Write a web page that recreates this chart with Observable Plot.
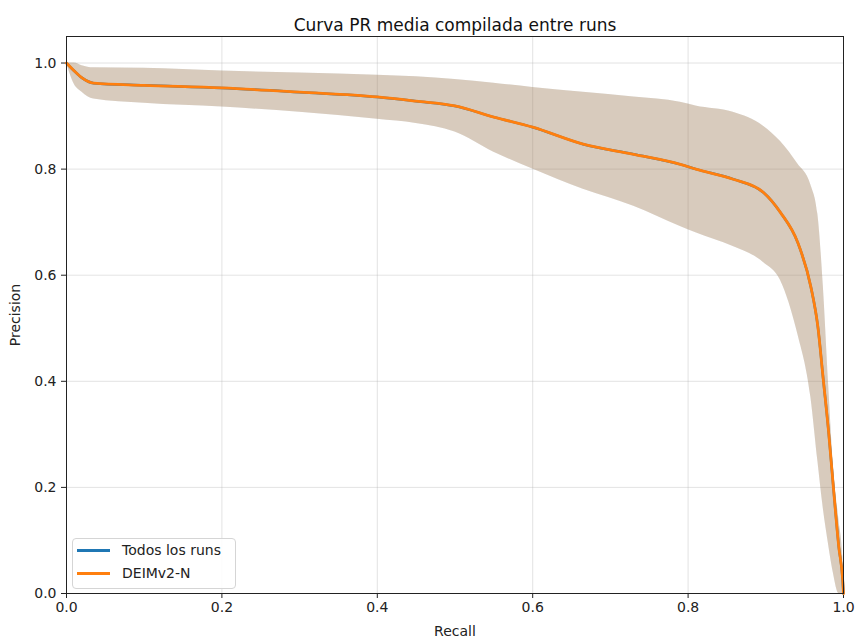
<!DOCTYPE html>
<html>
<head>
<meta charset="utf-8">
<script src="https://cdn.jsdelivr.net/npm/d3@7"></script>
<script src="https://cdn.jsdelivr.net/npm/@observablehq/plot@0.6"></script>
<style>
  body { margin: 0; background: #fff; font-family: "DejaVu Sans", sans-serif; }
  #wrap { position: relative; width: 856px; height: 637px; }
  #legend { position: absolute; left: 72px; top: 538px; width: 164px; height: 51px;
    border: 1px solid #d5d5d5; border-radius: 4px; background: rgba(255,255,255,0.85);
    font-size: 14px; color: #222; box-sizing: border-box; }
  .item { position: absolute; left: 4px; height: 20px; display: flex; align-items: center; }
  .sw { width: 33px; height: 3px; margin-right: 12px; }
</style>
</head>
<body>
<div id="wrap"></div>
<script>
const title = "Curva PR media compilada entre runs";
const xLabel = "Recall";
const yLabel = "Precision";
const seriesNames = ["Todos los runs", "DEIMv2-N"];
const seriesColors = ["#1f77b4", "#ff7f0e"];
const ticks = [0, 0.2, 0.4, 0.6, 0.8, 1.0];

const recall = [0, 0.01, 0.02, 0.035, 0.1, 0.2, 0.3, 0.4, 0.45, 0.5, 0.55, 0.6, 0.665, 0.73, 0.79, 0.81, 0.858, 0.897, 0.919, 0.941, 0.958, 0.967, 0.974, 0.981, 0.987, 0.994, 0.999, 1.0];
const precisionMean = [1.0, 0.985, 0.972, 0.962, 0.958, 0.953, 0.945, 0.936, 0.928, 0.919, 0.898, 0.879, 0.847, 0.828, 0.809, 0.800, 0.781, 0.756, 0.718, 0.662, 0.578, 0.503, 0.403, 0.302, 0.200, 0.087, 0.025, 0.0];
const precisionUpper = [1.0, 1.0, 0.995, 0.991, 0.990, 0.985, 0.981, 0.977, 0.974, 0.969, 0.962, 0.954, 0.945, 0.936, 0.926, 0.919, 0.907, 0.881, 0.852, 0.810, 0.770, 0.715, 0.580, 0.390, 0.240, 0.140, 0.070, 0.0];
const precisionLower = [1.0, 0.960, 0.945, 0.932, 0.924, 0.917, 0.907, 0.894, 0.886, 0.870, 0.832, 0.800, 0.762, 0.730, 0.692, 0.680, 0.654, 0.624, 0.590, 0.490, 0.370, 0.250, 0.160, 0.090, 0.038, 0.0, 0.0, 0.0];

const data = recall.map((r, i) => ({r, m: precisionMean[i], lo: precisionLower[i], hi: precisionUpper[i]}));

const chart = Plot.plot({
  width: 856, height: 637,
  marginLeft: 66, marginRight: 13, marginTop: 36, marginBottom: 44,
  style: {fontFamily: "DejaVu Sans, sans-serif", fontSize: "14px", color: "#222", background: "#fff"},
  x: {domain: [0, 1], ticks, tickFormat: d3.format(".1f"), label: xLabel, labelArrow: "none", labelAnchor: "center", labelOffset: 42, tickSize: 5, tickPadding: 4},
  y: {domain: [0, 1.05], ticks, tickFormat: d3.format(".1f"), label: yLabel, labelArrow: "none", labelAnchor: "center", labelOffset: 56, tickSize: 5, tickPadding: 5},
  marks: [
    Plot.gridX(ticks, {stroke: "#b0b0b0", strokeOpacity: 0.35}),
    Plot.gridY(ticks, {stroke: "#b0b0b0", strokeOpacity: 0.35}),
    Plot.areaY(data, {x: "r", y1: "lo", y2: "hi", fill: seriesColors[0], fillOpacity: 0.22, curve: "monotone-x"}),
    Plot.areaY(data, {x: "r", y1: "lo", y2: "hi", fill: seriesColors[1], fillOpacity: 0.22, curve: "monotone-x"}),
    Plot.line(data, {x: "r", y: "m", stroke: seriesColors[0], strokeWidth: 2.5, curve: "monotone-x"}),
    Plot.line(data, {x: "r", y: "m", stroke: seriesColors[1], strokeWidth: 2.8, curve: "monotone-x"}),
    Plot.frame({stroke: "#222", strokeWidth: 1}),
    Plot.text([title], {frameAnchor: "top", dy: -18, fontSize: 17, fill: "#111"})
  ]
});
const wrap = document.getElementById("wrap");
wrap.appendChild(chart);

const legend = document.createElement("div");
legend.id = "legend";
seriesNames.forEach((name, i) => {
  const it = document.createElement("div");
  it.className = "item";
  it.style.top = (i === 0 ? 1 : 24) + "px";
  const sw = document.createElement("span");
  sw.className = "sw";
  sw.style.background = seriesColors[i];
  const tx = document.createElement("span");
  tx.textContent = name;
  it.appendChild(sw); it.appendChild(tx);
  legend.appendChild(it);
});
wrap.appendChild(legend);
</script>
</body>
</html>
